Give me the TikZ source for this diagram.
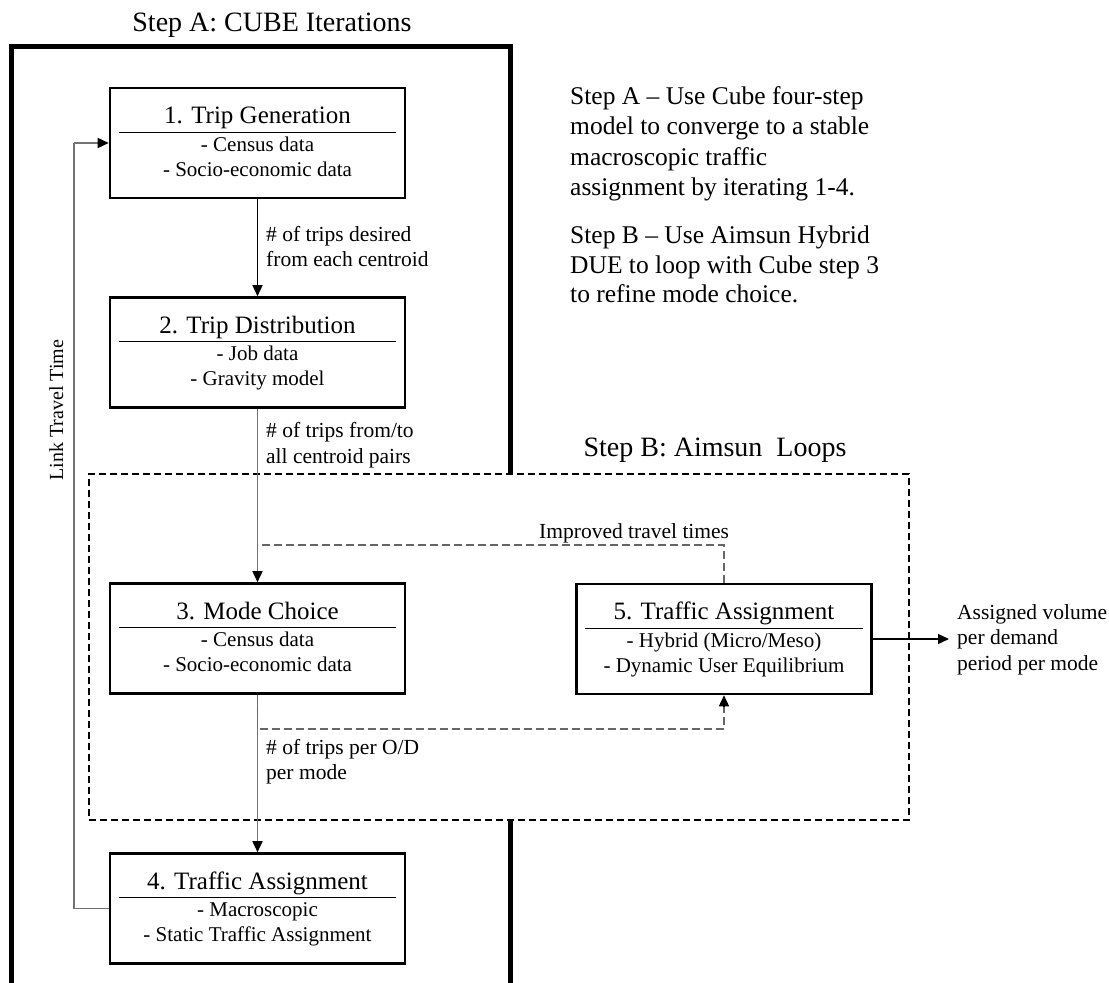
\documentclass[tikz,border=0pt]{standalone}
\usepackage{fontspec}
\setmainfont{Liberation Serif}
\usetikzlibrary{arrows.meta,calc}
\colorlet{conngray}{black!55}
\colorlet{dashgray}{black!60}
\tikzset{
  stepbox/.style={draw, line width=2.6pt, minimum width=295pt, minimum height=110pt, inner sep=0pt},
  framebox/.style={draw, line width=5pt, minimum width=499pt, minimum height=1000pt, inner sep=0pt},
  loopbox/.style={draw, fill=white, line width=2.5pt, dash pattern=on 7pt off 4pt, minimum width=820pt, minimum height=346pt, inner sep=0pt},
  boxtitle/.style={anchor=base, inner sep=0pt, font=\fontsize{25}{30}\selectfont},
  boxline/.style={anchor=base, inner sep=0pt, font=\fontsize{21}{25}\selectfont},
  lbl/.style={anchor=base west, inner sep=0pt, font=\fontsize{21.5}{25}\selectfont},
  para/.style={anchor=base west, inner sep=0pt, font=\fontsize{25.5}{30}\selectfont},
  bigtitle/.style={anchor=base, inner sep=0pt, font=\fontsize{28}{33}\selectfont},
  sepline/.style={line width=1.3pt},
  tip/.style={-{Triangle[length=11pt,width=10pt,color=black]}},
  conn/.style={line width=1.4pt, tip},
  grayconn/.style={line width=1.6pt, draw=conngray, tip},
  dashconn/.style={line width=1.6pt, draw=dashgray, dash pattern=on 8pt off 4pt},
}
\newcommand\mkstep[5]{%
  \node[stepbox] (#1) at (#2) {};
  \node[boxtitle] (#1t) at ([yshift=-37pt]#1.north) {#3};
  \draw[sepline] ([xshift=10pt,yshift=-45.5pt]#1.north west) -- ([xshift=-10pt,yshift=-45.5pt]#1.north east);
  \node[boxline] (#1a) at ([yshift=-64.5pt]#1.north) {#4};
  \node[boxline] (#1b) at ([yshift=-89.5pt]#1.north) {#5};
}
\begin{document}
\begin{tikzpicture}[x=1pt,y=-1pt]
\useasboundingbox (0,0) rectangle (1109,983);

% Step A frame
\node[framebox] (frameA) at (260.5,546) {};
\node[bigtitle] (titleA) at (272,31) {Step A: CUBE Iterations};

% Step B dashed frame
\node[loopbox] (loopB) at (499,647) {};
\node[bigtitle] (titleB) at (715,456) {Step B: Aimsun\ \ Loops};

% boxes
\mkstep{b1}{257.5,143}{1. Trip Generation}{- Census data}{- Socio-economic data}
\mkstep{b2}{257.5,352.5}{2. Trip Distribution}{- Job data}{- Gravity model}
\mkstep{b3}{257.5,638.5}{3. Mode Choice}{- Census data}{- Socio-economic data}
\mkstep{b4}{257.5,908.5}{4. Traffic Assignment}{- Macroscopic}{- Static Traffic Assignment}
\mkstep{b5}{724,639}{5. Traffic Assignment}{- Hybrid (Micro/Meso)}{- Dynamic User Equilibrium}

% main chain
\draw[conn] (b1) -- (b2);
\draw[grayconn] (b2) -- (b3);
\draw[grayconn] (b3) -- (b4);

% feedback loop
\coordinate (fbx) at (74,0);
\draw[line width=1.6pt, draw=conngray] (b4.west) -| (fbx |- b1.west);
\draw[line width=1.6pt, draw=conngray, tip] (fbx |- b1.west) -- (b1.west);
\node[rotate=90, anchor=base, inner sep=0pt, font=\fontsize{20}{24}\selectfont] (ltt) at (63,410) {Link Travel Time};

% Aimsun loop connectors
\draw[dashconn] (b5.north) |- ([yshift=37pt]b3.north);
\draw[dashconn] (b3.south) -- ([yshift=-34pt]b3.south) -| ([yshift=-12pt]b5.south);
\draw[line width=1.6pt, tip] ([yshift=-12pt]b5.south) -- (b5.south);
\node[lbl] (imp) at (539,538) {Improved travel times};

% connector labels
\node[lbl] (l1a) at (266,241) {\# of trips desired};
\node[lbl] (l1b) at (266,266) {from each centroid};
\node[lbl] (l2a) at (266,437) {\# of trips from/to};
\node[lbl] (l2b) at (266,463) {all centroid pairs};
\node[lbl] (l3a) at (266,754) {\# of trips per O/D};
\node[lbl] (l3b) at (266,779) {per mode};

% output
\node[lbl] (o1) at (957,619) {Assigned volume};
\node[lbl] (o2) at (957,644) {per demand};
\node[lbl] (o3) at (957,670) {period per mode};
\coordinate (otip) at (949,0);
\draw[conn] (b5.east) -- (otip |- b5.east);

% description
\node[para] (p1) at (570,104) {Step A – Use Cube four-step};
\node[para] (p2) at (570,134) {model to converge to a stable};
\node[para] (p3) at (570,165) {macroscopic traffic};
\node[para] (p4) at (570,195) {assignment by iterating 1-4.};
\node[para] (p5) at (570,243) {Step B – Use Aimsun Hybrid};
\node[para] (p6) at (570,273) {DUE to loop with Cube step 3};
\node[para] (p7) at (570,302) {to refine mode choice.};
\end{tikzpicture}
\end{document}
